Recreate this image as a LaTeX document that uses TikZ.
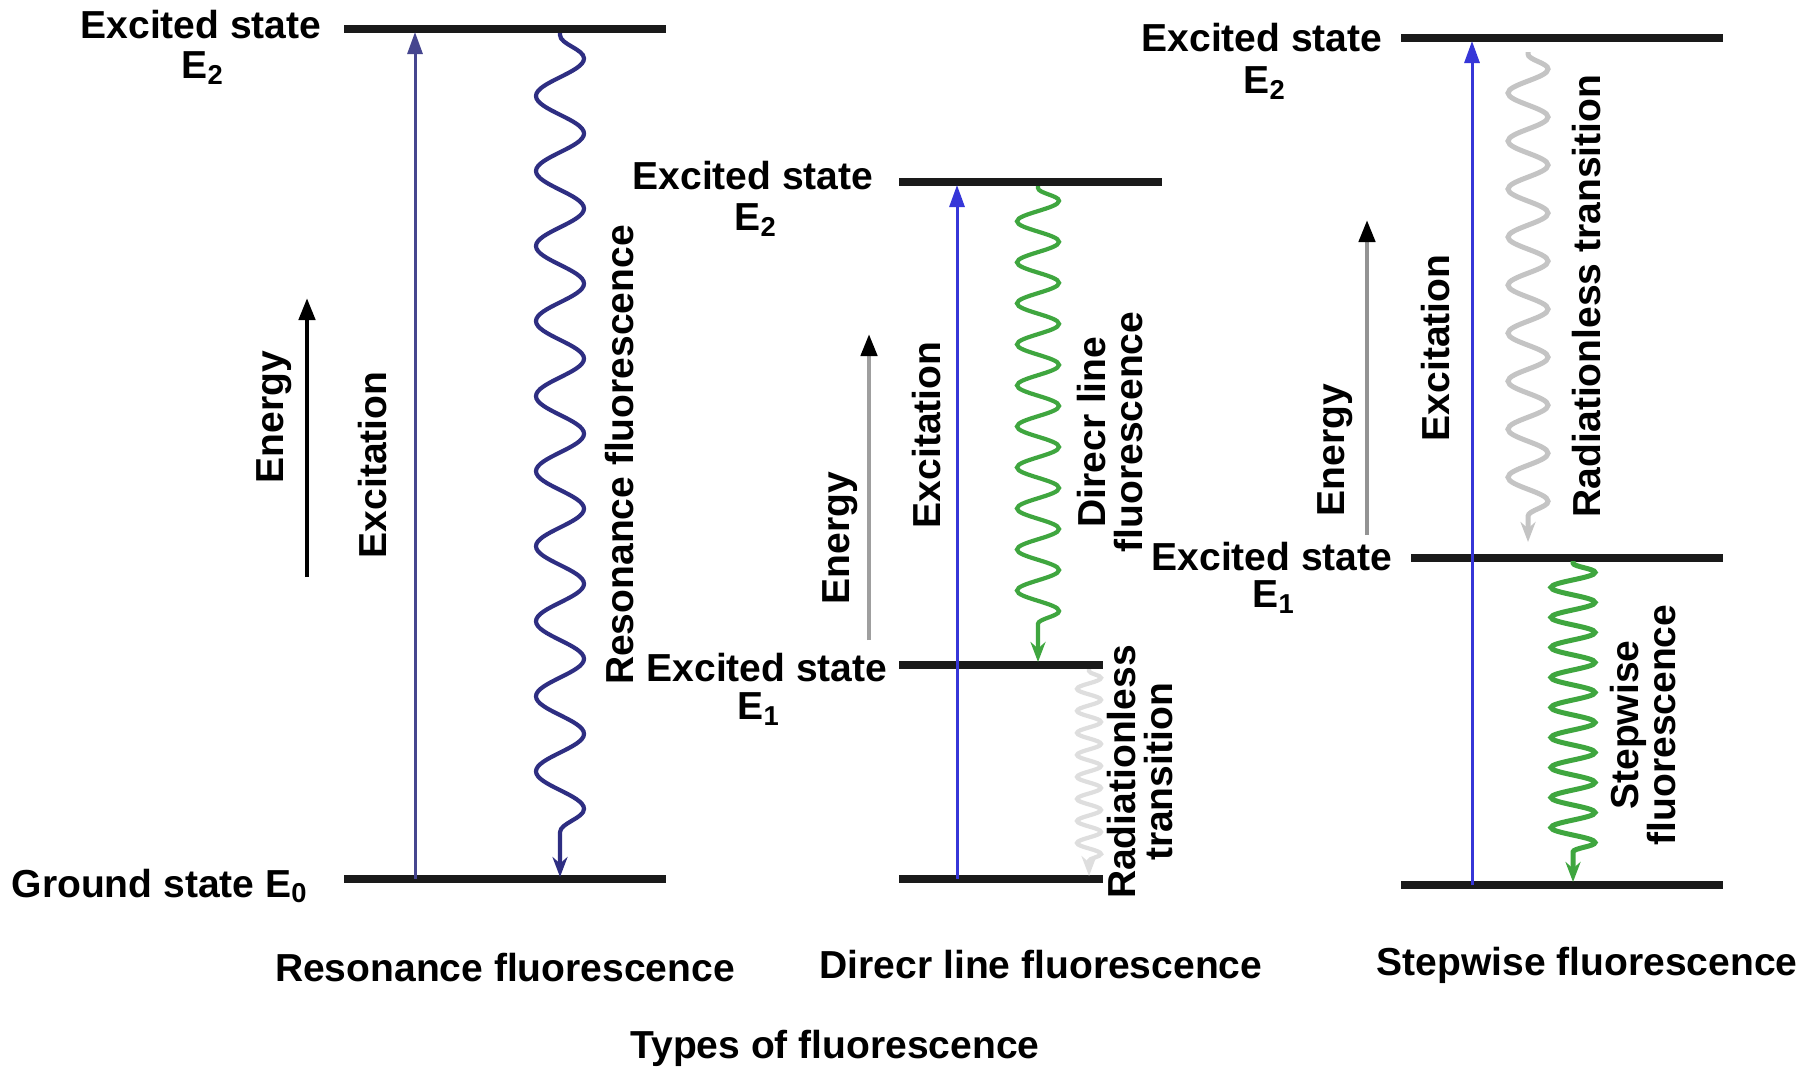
\documentclass[tikz,border=0pt]{standalone}
\usepackage{fontspec}
\setmainfont{Liberation Sans}
\usetikzlibrary{arrows.meta,decorations.pathmorphing}
\definecolor{levelc}{HTML}{1A1A1A}
\definecolor{navyex}{HTML}{46468F}
\definecolor{navywave}{HTML}{2E2E82}
\definecolor{bluex}{HTML}{3636D8}
\definecolor{greenw}{HTML}{3FA63F}
\definecolor{grayw}{HTML}{C4C4C4}
\definecolor{grayw2}{HTML}{DEDEDE}
\begin{document}
\begin{tikzpicture}[x=0.01cm,y=-0.01cm,
  lbl/.style={font=\fontsize{11.1}{10.6}\selectfont\bfseries, inner sep=0pt, align=center},
  vlbl/.style={lbl, rotate=90},
  level/.style={line width=0.075cm, draw=levelc},
  excite/.style={line width=0.03cm, -{Triangle[length=0.22cm,width=0.15cm]}},
  energyarrow/.style={line width=0.045cm, -{Triangle[length=0.22cm,width=0.16cm,color=black]}},
  wavetip/.style={-{Stealth[length=0.2cm,width=0.15cm]}},
  wave/.style={line width=0.042cm, decorate, wavetip}
]
\useasboundingbox (0,0) rectangle (1816,1072);
\fill[white] (0,0) rectangle (1816,1072);

% ---------------- Panel 1: Resonance fluorescence
\coordinate (p1e2l) at (344,29);  \coordinate (p1e2r) at (666,29);
\coordinate (p1gl)  at (344,879); \coordinate (p1gr)  at (666,879);
\draw[level] (p1e2l) -- (p1e2r);
\draw[level] (p1gl) -- (p1gr);
\node[lbl] (p1es) at (201,25) {Excited state};
\node[lbl] (p1e2) at (203,68) {E\textsubscript{2}};
\node[lbl] (p1gs) at (160,886) {Ground state E\textsubscript{0}};
\coordinate (p1enb) at (307,577); \coordinate (p1ent) at (307,298);
\draw[energyarrow, black] (p1enb) -- (p1ent);
\node[vlbl] (p1en) at (274,417) {Energy};
\coordinate (p1xb) at (415,879); \coordinate (p1xt) at (415,32);
\draw[excite, navyex] (p1xb) -- (p1xt);
\node[vlbl] (p1x) at (373,465) {Excitation};
\coordinate (p1wt) at (560,33); \coordinate (p1wb) at (560,877);
\draw[wave, navywave, decoration={snake, amplitude=0.24cm, segment length=0.75cm, pre length=0.02cm, post length=0.2cm}] (p1wt) -- (p1wb);
\node[vlbl] (p1rf) at (620,455) {Resonance fluorescence};
\node[lbl] (p1t) at (505,968) {Resonance fluorescence};

% ---------------- Panel 2: Direct line fluorescence
\coordinate (p2e2l) at (899,182); \coordinate (p2e2r) at (1162,182);
\coordinate (p2e1l) at (899,665); \coordinate (p2e1r) at (1103,665);
\coordinate (p2gl)  at (899,879); \coordinate (p2gr)  at (1103,879);
\draw[level] (p2e2l) -- (p2e2r);
\draw[level] (p2e1l) -- (p2e1r);
\draw[level] (p2gl) -- (p2gr);
\node[lbl] (p2es) at (753,176) {Excited state};
\node[lbl] (p2e2) at (756,220) {E\textsubscript{2}};
\node[lbl] (p2es1) at (767,668) {Excited state};
\node[lbl] (p2e1) at (759,709) {E\textsubscript{1}};
\coordinate (p2enb) at (869,640); \coordinate (p2ent) at (869,334);
\draw[energyarrow, gray!75] (p2enb) -- (p2ent);
\node[vlbl] (p2en) at (840,538) {Energy};
\coordinate (p2xb) at (957,879); \coordinate (p2xt) at (957,185);
\draw[excite, bluex] (p2xb) -- (p2xt);
\node[vlbl] (p2x) at (927,435) {Excitation};
\coordinate (p2wt) at (1038,186); \coordinate (p2wb) at (1038,662);
\draw[wave, greenw, decoration={snake, amplitude=0.21cm, segment length=0.41cm, pre length=0.02cm, post length=0.18cm}] (p2wt) -- (p2wb);
\node[vlbl] (p2df) at (1110,432) {Direcr line\\fluorescence};
\coordinate (p2rt) at (1089,669); \coordinate (p2rb) at (1089,876);
\draw[wave, grayw2, decoration={snake, amplitude=0.12cm, segment length=0.22cm, pre length=0.02cm, post length=0.14cm}] (p2rt) -- (p2rb);
\node[vlbl] (p2rl) at (1140,772) {Radiationless\\transition};
\node[lbl] (p2t) at (1041,965) {Direcr line fluorescence};

% ---------------- Panel 3: Stepwise fluorescence
\coordinate (p3e2l) at (1401,38); \coordinate (p3e2r) at (1723,38);
\coordinate (p3e1l) at (1411,558); \coordinate (p3e1r) at (1723,558);
\coordinate (p3gl)  at (1401,885); \coordinate (p3gr)  at (1723,885);
\draw[level] (p3e2l) -- (p3e2r);
\draw[level] (p3e1l) -- (p3e1r);
\draw[level] (p3gl) -- (p3gr);
\node[lbl] (p3es) at (1262,38) {Excited state};
\node[lbl] (p3e2) at (1265,83) {E\textsubscript{2}};
\node[lbl] (p3es1) at (1272,557) {Excited state};
\node[lbl] (p3e1) at (1274,597) {E\textsubscript{1}};
\coordinate (p3enb) at (1367,535); \coordinate (p3ent) at (1367,220);
\draw[energyarrow, gray!85] (p3enb) -- (p3ent);
\node[vlbl] (p3en) at (1335,450) {Energy};
\coordinate (p3xb) at (1472,885); \coordinate (p3xt) at (1472,41);
\draw[excite, bluex] (p3xb) -- (p3xt);
\node[vlbl] (p3x) at (1436,348) {Excitation};
\coordinate (p3rt) at (1528,52); \coordinate (p3rb) at (1528,542);
\draw[wave, grayw, line width=0.05cm, decoration={snake, amplitude=0.2cm, segment length=0.48cm, pre length=0.02cm, post length=0.2cm}] (p3rt) -- (p3rb);
\node[vlbl] (p3rl) at (1587,296) {Radiationless transition};
\coordinate (p3wt) at (1573,561); \coordinate (p3wb) at (1573,882);
\draw[wave, greenw, line width=0.05cm, decoration={snake, amplitude=0.22cm, segment length=0.30cm, pre length=0.02cm, post length=0.16cm}] (p3wt) -- (p3wb);
\node[vlbl] (p3sf) at (1643,725) {Stepwise\\fluorescence};
\node[lbl] (p3t) at (1587,965) {Stepwise fluorescence};

\node[lbl] (title) at (835,1048) {Types of fluorescence};
\end{tikzpicture}
\end{document}
